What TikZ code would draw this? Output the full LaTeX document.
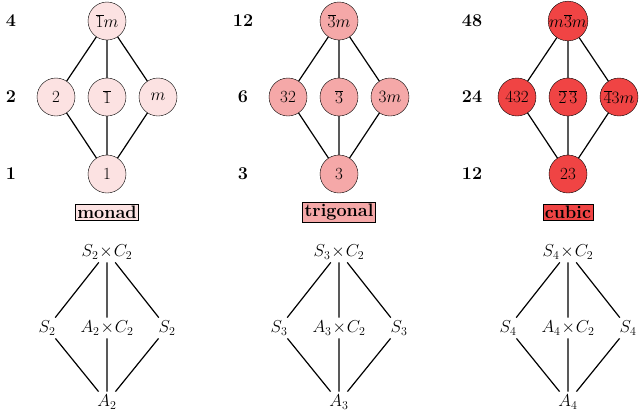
\documentclass[tikz,border=0pt]{standalone}
\begin{document}
\begin{tikzpicture}[x=1pt,y=-1pt,
  g/.style={circle,draw,minimum size=38pt,inner sep=0pt,font=\fontsize{17}{20}\selectfont},
  ord/.style={font=\fontsize{18}{20}\selectfont\bfseries},
  lab/.style={draw,inner sep=2pt,font=\fontsize{18}{20}\selectfont\bfseries},
  s/.style={inner sep=3pt,font=\fontsize{17}{20}\selectfont},
  e/.style={line width=1.2pt}]
\useasboundingbox (0,0) rectangle (640,413);
\definecolor{cA}{RGB}{252,226,226}
\definecolor{cB}{RGB}{245,168,168}
\definecolor{cC}{RGB}{240,68,68}
\foreach \cx/\col/\a/\b/\c/\d/\e/\f/\o/\p/\q/\n [count=\i] in
 {107/cA/{$\overline{1}m$}/2/{$\overline{1}$}/{$m$}/1/monad/4/2/1/2,
  339/cB/{$\overline{3}m$}/32/{$\overline{3}$}/{$3m$}/3/trigonal/12/6/3/3,
  568/cC/{$m\overline{3}m$}/432/{$\overline{2}\,\overline{3}$}/{$\overline{4}3m$}/23/cubic/48/24/12/4}{
  \node[g,fill=\col] (t\i) at (\cx,21) {\a};
  \node[g,fill=\col] (l\i) at (\cx-51,97) {\b};
  \node[g,fill=\col] (m\i) at (\cx,97) {\c};
  \node[g,fill=\col] (r\i) at (\cx+51,97) {\d};
  \node[g,fill=\col] (b\i) at (\cx,174) {\e};
  \draw[e] (t\i)--(l\i) (t\i)--(m\i) (t\i)--(r\i) (l\i)--(b\i) (m\i)--(b\i) (r\i)--(b\i);
  \node[lab,fill=\col] (n\i) at (\cx,212) {\f};
  \node[ord] (o\i) at (\cx-96,21) {\o};
  \node[ord] (p\i) at (\cx-96,97) {\p};
  \node[ord] (q\i) at (\cx-96,174) {\q};
  \node[s] (T\i) at (\cx,252) {$S_{\n}\!\times\! C_2$};
  \node[s] (L\i) at (\cx-60,328) {$S_{\n}$};
  \node[s] (M\i) at (\cx,328) {$A_{\n}\!\times\! C_2$};
  \node[s] (R\i) at (\cx+60,328) {$S_{\n}$};
  \node[s] (B\i) at (\cx,402) {$A_{\n}$};
  \draw[e] (T\i)--(L\i) (T\i)--(M\i) (T\i)--(R\i) (L\i)--(B\i) (M\i)--(B\i) (R\i)--(B\i);
}
\end{tikzpicture}
\end{document}
